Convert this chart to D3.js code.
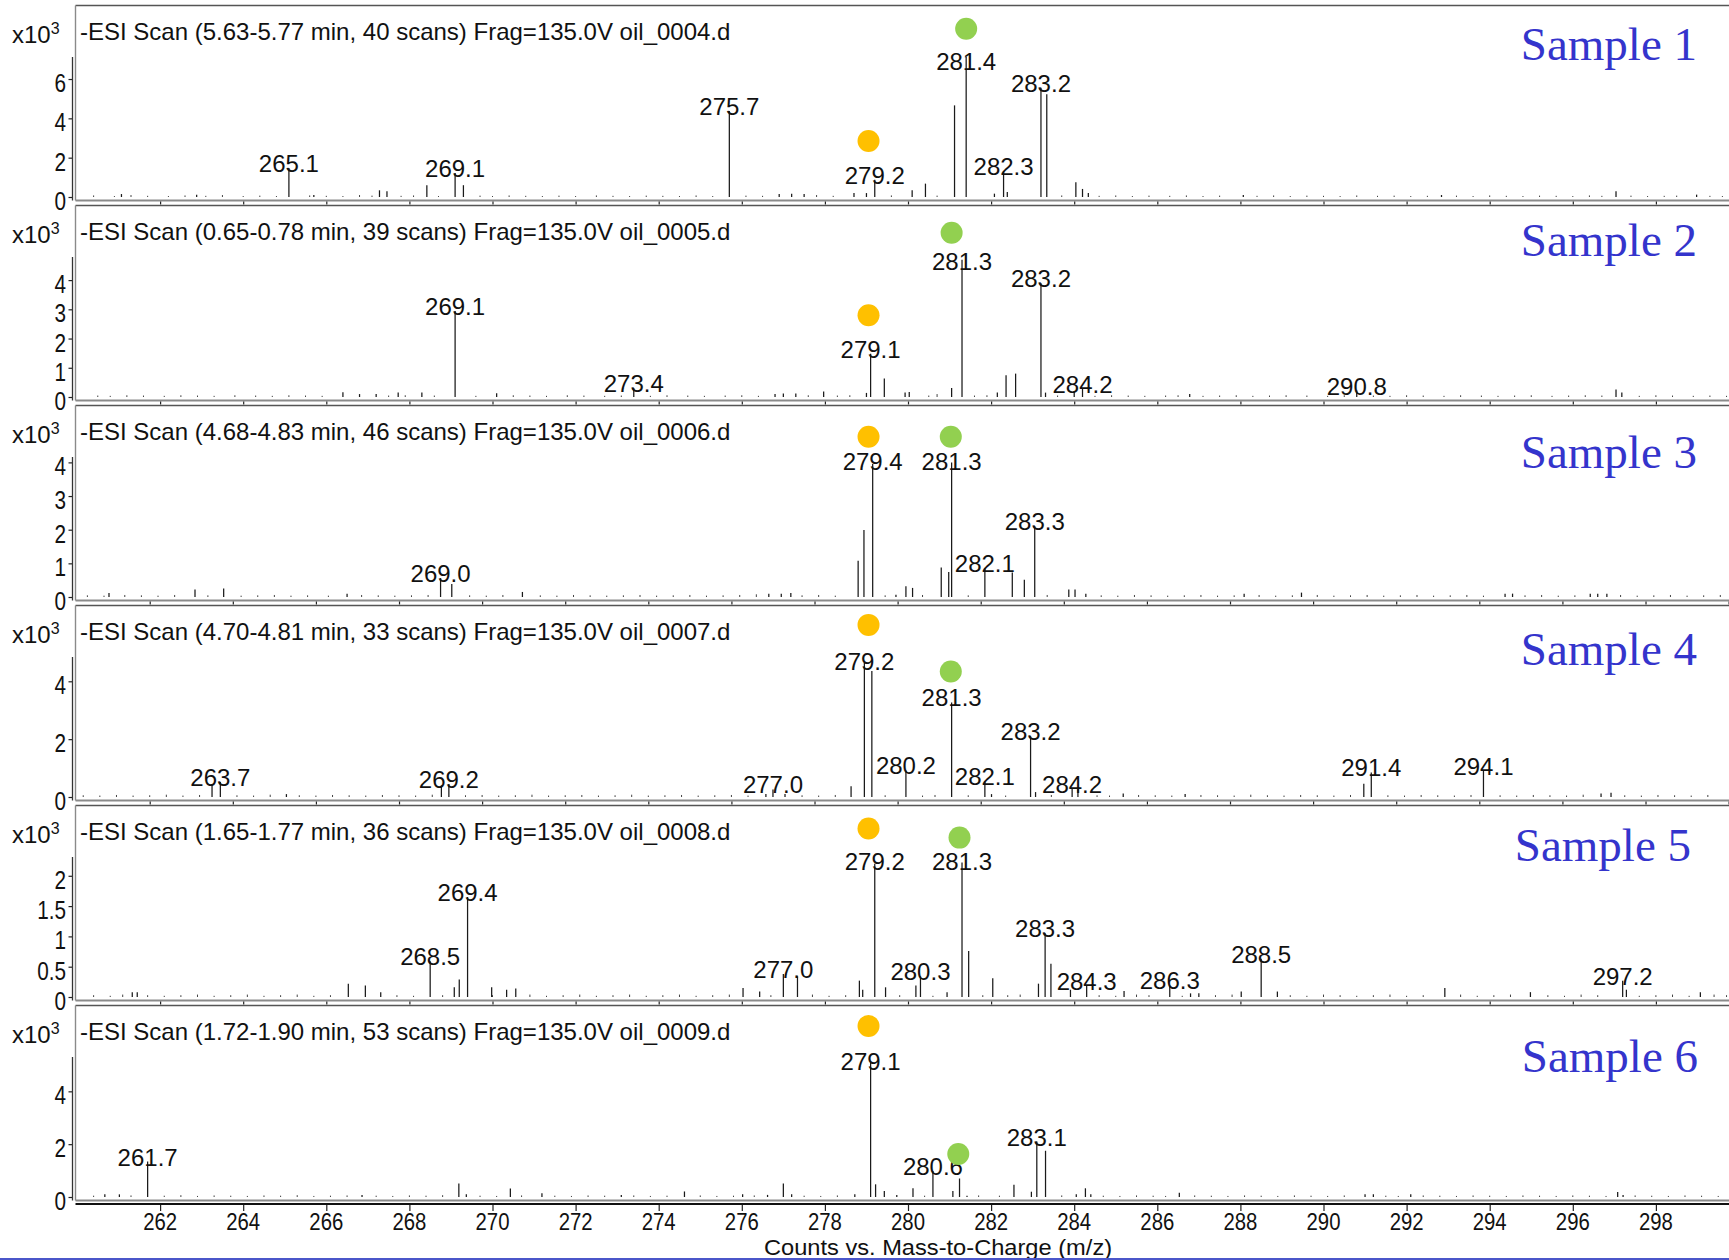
<!DOCTYPE html>
<html>
<head>
<meta charset="utf-8">
<script src="https://cdn.jsdelivr.net/npm/d3@7"></script>
<style>
  html, body { margin: 0; padding: 0; background: #ffffff; }
  svg { display: block; }
</style>
</head>
<body>
<svg id="chart" width="1729" height="1260"></svg>
<script>
// ---------- Sample panels (top to bottom) ----------
const sampleNames = ["Sample 1", "Sample 2", "Sample 3", "Sample 4", "Sample 5", "Sample 6"];
const scanTitles = [
  "-ESI Scan (5.63-5.77 min, 40 scans) Frag=135.0V oil_0004.d",
  "-ESI Scan (0.65-0.78 min, 39 scans) Frag=135.0V oil_0005.d",
  "-ESI Scan (4.68-4.83 min, 46 scans) Frag=135.0V oil_0006.d",
  "-ESI Scan (4.70-4.81 min, 33 scans) Frag=135.0V oil_0007.d",
  "-ESI Scan (1.65-1.77 min, 36 scans) Frag=135.0V oil_0008.d",
  "-ESI Scan (1.72-1.90 min, 53 scans) Frag=135.0V oil_0009.d"
];

// m/z where each panel's x axis starts (window is 40 m/z wide)
const mzStart = [260, 260, 260.25, 260.25, 260, 260];
// intensity axis top (x10^3 counts) and tick values per panel
const yMax = [7.12, 4.79, 4.16, 4.84, 2.31, 5.3];
const yTicks = [[0, 2, 4, 6], [0, 1, 2, 3, 4], [0, 1, 2, 3, 4], [0, 2, 4], [0, 0.5, 1, 1.5, 2], [0, 2, 4]];
const xTickValues = [262, 264, 266, 268, 270, 272, 274, 276, 278, 280, 282, 284, 286, 288, 290, 292, 294, 296, 298, 300];
const xTickLabels = [262, 264, 266, 268, 270, 272, 274, 276, 278, 280, 282, 284, 286, 288, 290, 292, 294, 296, 298];

// ---------- Centroid peaks: [m/z, counts x10^3, labelled] ----------
const s1Peaks = [
  [261.07, 0.15], [262.88, 0.12], [265.1, 1.48, 1], [265.7, 0.1], [267.28, 0.34], [267.46, 0.29],
  [268.42, 0.6], [269.1, 1.22, 1], [269.3, 0.6], [275.7, 4.37, 1], [276.9, 0.15], [277.2, 0.16],
  [277.5, 0.15], [278.7, 0.2], [279.0, 0.2], [279.2, 0.88, 1], [280.1, 0.34], [280.42, 0.68],
  [281.12, 4.66], [281.4, 7.12, 1], [282.08, 0.17], [282.3, 1.31, 1], [282.39, 0.26], [283.2, 5.56, 1],
  [283.34, 5.22], [284.04, 0.75], [284.2, 0.41], [284.34, 0.2], [288.07, 0.1], [292.84, 0.1],
  [297.04, 0.29], [298.98, 0.12]
];
const s2Peaks = [
  [266.4, 0.16], [266.8, 0.1], [267.2, 0.1], [267.73, 0.15], [268.3, 0.15], [269.1, 2.94, 1],
  [270.1, 0.13], [273.4, 0.3, 1], [276.8, 0.1], [277.0, 0.12], [277.3, 0.12], [277.97, 0.19],
  [279.0, 0.14], [279.1, 1.48, 1], [279.43, 0.63], [279.93, 0.15], [280.03, 0.17], [281.05, 0.31],
  [281.3, 4.7, 1], [282.15, 0.15], [282.36, 0.74], [282.59, 0.8], [283.2, 3.89, 1], [283.31, 0.15],
  [284.0, 0.2], [284.2, 0.28, 1], [286.78, 0.1], [290.8, 0.22, 1], [297.04, 0.26], [297.18, 0.15]
];
const s3Peaks = [
  [261.02, 0.12], [263.09, 0.22], [263.78, 0.25], [266.75, 0.1], [269.0, 0.56, 1], [269.27, 0.39],
  [270.97, 0.15], [276.9, 0.1], [277.2, 0.1], [277.43, 0.12], [279.05, 1.08], [279.19, 1.99],
  [279.4, 3.95, 1], [279.96, 0.07], [280.2, 0.32], [280.36, 0.27], [281.05, 0.88], [281.23, 0.74],
  [281.3, 4.0, 1], [282.1, 0.85, 1], [282.76, 0.73], [283.05, 0.51], [283.3, 2.1, 1], [284.12, 0.22],
  [284.27, 0.22], [284.53, 0.1], [288.34, 0.1], [289.72, 0.13], [294.62, 0.1], [294.8, 0.1],
  [296.67, 0.1], [296.85, 0.1], [297.07, 0.1]
];
const s4Peaks = [
  [263.5, 0.45], [263.7, 0.52, 1], [265.29, 0.1], [269.02, 0.4], [269.2, 0.45, 1], [276.83, 0.1],
  [277.0, 0.26, 1], [277.29, 0.1], [278.88, 0.37], [279.2, 4.65, 1], [279.38, 4.36], [280.2, 0.92, 1],
  [281.3, 3.27, 1], [282.1, 0.54, 1], [282.26, 0.1], [283.2, 2.1, 1], [283.32, 0.17], [284.2, 0.29, 1],
  [284.34, 0.27], [285.43, 0.12], [286.92, 0.1], [291.22, 0.46], [291.4, 0.85, 1], [294.1, 0.91, 1],
  [296.93, 0.12], [297.17, 0.15]
];
const s5Peaks = [
  [261.33, 0.08], [261.45, 0.08], [266.53, 0.22], [266.94, 0.19], [267.31, 0.08], [268.5, 0.59, 1],
  [269.08, 0.16], [269.2, 0.29], [269.4, 1.65, 1], [269.98, 0.16], [270.34, 0.12], [270.56, 0.14],
  [276.03, 0.15], [276.43, 0.09], [277.0, 0.38, 1], [277.34, 0.34], [278.83, 0.27], [278.91, 0.12],
  [279.2, 2.2, 1], [279.46, 0.16], [280.19, 0.19], [280.3, 0.34, 1], [280.94, 0.08], [281.3, 2.22, 1],
  [281.46, 0.76], [282.04, 0.31], [283.14, 0.22], [283.3, 1.05, 1], [283.44, 0.55], [283.91, 0.12],
  [284.3, 0.18, 1], [285.2, 0.1], [286.3, 0.19, 1], [286.8, 0.06], [287.0, 0.06], [288.02, 0.09],
  [288.5, 0.63, 1], [288.89, 0.09], [292.92, 0.15], [294.98, 0.08], [297.2, 0.27, 1], [297.29, 0.12],
  [299.07, 0.08]
];
const s6Peaks = [
  [260.67, 0.1], [261.02, 0.1], [261.7, 1.34, 1], [266.86, 0.08], [269.19, 0.51], [269.37, 0.1],
  [270.43, 0.32], [271.19, 0.14], [273.1, 0.08], [274.62, 0.21], [276.02, 0.1], [276.62, 0.08],
  [277.0, 0.51], [277.2, 0.1], [278.72, 0.1], [279.1, 5.1, 1], [279.22, 0.48], [279.43, 0.23],
  [279.73, 0.08], [280.12, 0.33], [280.6, 0.98, 1], [281.08, 0.23], [281.24, 0.7], [281.42, 0.05],
  [282.55, 0.46], [282.97, 0.2], [283.1, 2.1, 1], [283.31, 1.75], [284.05, 0.1], [284.27, 0.33],
  [284.4, 0.1], [286.53, 0.16], [291.0, 0.1], [291.2, 0.1], [292.1, 0.1], [297.08, 0.19], [297.21, 0.08]
];

// ---------- Low-level baseline ions: [m/z, counts x10^3] ----------
const s1Noise = [
  [260.4,.08],[260.9,.05],[261.3,.1],[261.7,.06],[262.2,.05],[262.6,.08],[263.1,.06],[263.5,.1],[264.0,.05],[264.4,.07],
  [264.8,.05],[265.6,.08],[266.0,.06],[266.4,.05],[266.8,.1],[267.1,.07],[267.8,.06],[268.1,.08],[268.7,.05],[269.7,.07],
  [270.0,.05],[270.4,.08],[270.8,.06],[271.2,.05],[271.6,.07],[272.0,.05],[272.5,.08],[272.9,.06],[273.3,.05],[273.7,.07],
  [274.1,.06],[274.5,.05],[274.9,.08],[275.3,.05],[276.1,.07],[276.5,.06],[277.8,.1],[278.2,.06],[279.6,.08],[280.7,.07],
  [283.7,.08],[284.6,.06],[285.0,.08],[285.4,.05],[285.8,.07],[286.3,.06],[286.7,.08],[287.1,.05],[287.5,.07],[288.4,.06],
  [288.8,.08],[289.2,.05],[289.6,.07],[290.0,.06],[290.4,.05],[290.8,.08],[291.3,.06],[291.7,.07],[292.1,.05],[292.5,.06],
  [293.2,.07],[293.6,.05],[294.0,.08],[294.4,.06],[294.8,.05],[295.2,.07],[295.6,.06],[296.0,.05],[296.4,.08],[296.7,.06],
  [297.4,.07],[297.8,.05],[298.2,.06],[298.5,.07],[299.3,.06],[299.6,.05]
];
const s2Noise = [
  [260.5,.05],[260.8,.04],[261.2,.06],[261.6,.05],[262.1,.04],[262.5,.06],[262.9,.05],[263.3,.04],[263.8,.06],[264.3,.05],
  [264.7,.04],[265.1,.06],[265.5,.05],[265.9,.04],[267.5,.05],[267.9,.06],[268.6,.05],[269.6,.04],[270.5,.06],[270.9,.05],
  [271.3,.04],[271.8,.06],[272.2,.05],[272.7,.04],[273.1,.05],[273.8,.04],[274.2,.06],[274.7,.05],[275.1,.04],[275.6,.05],
  [276.0,.06],[276.4,.04],[277.6,.06],[278.3,.05],[278.6,.06],[280.5,.05],[280.7,.1],[281.6,.05],[281.9,.06],[283.6,.05],
  [284.5,.04],[284.9,.06],[285.3,.05],[285.7,.04],[286.2,.05],[286.5,.06],[287.1,.04],[287.5,.05],[287.9,.06],[288.3,.04],
  [288.7,.05],[289.1,.06],[289.6,.05],[290.1,.04],[290.5,.06],[291.2,.05],[291.6,.04],[292.0,.06],[292.4,.05],[292.9,.04],
  [293.3,.06],[293.8,.05],[294.2,.04],[294.6,.05],[295.0,.06],[295.5,.04],[295.9,.05],[296.3,.06],[296.7,.05],[297.6,.04],
  [298.0,.06],[298.4,.05],[298.9,.04],[299.3,.05],[299.7,.04]
];
const s3Noise = [
  [260.5,.05],[260.9,.04],[261.4,.06],[261.8,.05],[262.2,.04],[262.6,.06],[263.4,.05],[264.2,.04],[264.6,.05],[265.0,.06],
  [265.4,.04],[265.8,.05],[266.3,.04],[267.1,.06],[267.5,.05],[267.9,.04],[268.3,.05],[268.7,.06],[269.7,.05],[270.1,.04],
  [270.5,.06],[271.4,.05],[271.8,.04],[272.2,.06],[272.6,.05],[273.0,.04],[273.4,.05],[273.8,.06],[274.2,.04],[274.6,.05],
  [275.0,.06],[275.4,.04],[275.8,.05],[276.2,.06],[276.6,.08],[277.7,.05],[278.1,.06],[278.5,.04],[279.7,.05],[280.6,.06],
  [281.7,.05],[283.6,.06],[284.9,.05],[285.3,.04],[285.7,.06],[286.1,.05],[286.5,.04],[286.9,.05],[287.3,.06],[287.7,.04],
  [288.1,.05],[288.7,.06],[289.1,.04],[289.5,.05],[290.1,.06],[290.5,.04],[290.9,.05],[291.3,.06],[291.7,.04],[292.1,.05],
  [292.5,.06],[292.9,.04],[293.3,.05],[293.7,.06],[294.1,.04],[295.1,.05],[295.5,.06],[295.9,.04],[296.3,.05],[297.4,.06],
  [297.8,.04],[298.2,.05],[298.6,.06],[299.0,.04],[299.4,.05],[299.8,.06]
];
const s4Noise = [
  [260.4,.06],[260.8,.05],[261.2,.07],[261.6,.05],[262.0,.06],[262.4,.08],[262.8,.05],[263.2,.07],[264.1,.06],[264.5,.05],
  [264.9,.08],[265.6,.06],[266.0,.05],[266.4,.07],[266.8,.06],[267.2,.05],[267.6,.07],[268.0,.06],[268.4,.05],[268.8,.08],
  [269.6,.06],[270.0,.07],[270.4,.05],[270.8,.06],[271.2,.08],[271.6,.05],[272.0,.06],[272.4,.07],[272.8,.05],[273.2,.06],
  [273.6,.08],[274.0,.05],[274.4,.06],[274.8,.07],[275.2,.05],[275.6,.06],[276.0,.07],[276.4,.05],[277.7,.06],[278.1,.05],
  [278.5,.07],[279.7,.06],[280.6,.05],[280.9,.07],[281.7,.06],[282.6,.05],[283.7,.07],[284.8,.06],[285.1,.05],[285.8,.07],
  [286.2,.06],[286.6,.05],[287.3,.07],[287.7,.06],[288.1,.05],[288.5,.08],[288.9,.06],[289.3,.05],[289.7,.07],[290.1,.06],
  [290.5,.05],[290.9,.07],[291.8,.06],[292.2,.05],[292.6,.07],[293.0,.06],[293.4,.05],[293.8,.07],[294.5,.06],[294.9,.05],
  [295.3,.07],[295.7,.06],[296.1,.05],[296.5,.08],[297.5,.06],[297.9,.05],[298.3,.07],[298.7,.06],[299.1,.05],[299.5,.07]
];
const s5Noise = [
  [260.4,.03],[260.8,.02],[261.1,.04],[261.7,.03],[262.1,.02],[262.5,.03],[262.9,.04],[263.3,.02],[263.7,.03],[264.1,.04],
  [264.5,.02],[264.9,.03],[265.3,.04],[265.7,.02],[266.1,.03],[267.7,.03],[268.1,.02],[268.8,.03],[270.0,.03],[270.9,.04],
  [271.3,.02],[271.7,.03],[272.1,.04],[272.5,.02],[272.9,.03],[273.3,.04],[273.7,.02],[274.1,.03],[274.5,.04],[274.9,.02],
  [275.3,.03],[275.7,.04],[276.7,.03],[277.7,.04],[278.1,.02],[278.5,.03],[279.8,.03],[280.6,.02],[281.8,.03],[282.4,.03],
  [282.7,.04],[284.6,.03],[285.0,.02],[285.5,.04],[285.8,.03],[286.6,.02],[287.4,.03],[287.8,.04],[289.2,.03],[289.6,.02],
  [290.0,.04],[290.4,.03],[290.8,.02],[291.2,.03],[291.6,.04],[292.0,.02],[292.4,.03],[293.3,.04],[293.7,.02],[294.1,.03],
  [294.5,.04],[295.4,.03],[295.8,.02],[296.2,.04],[296.6,.03],[297.6,.02],[298.0,.03],[298.4,.04],[298.8,.02],[299.4,.04],
  [299.7,.03]
];
const s6Noise = [
  [260.4,.05],[261.3,.06],[262.1,.05],[262.5,.07],[262.9,.04],[263.3,.06],[263.7,.05],[264.1,.04],[264.5,.06],[264.9,.05],
  [265.3,.07],[265.7,.04],[266.1,.05],[266.5,.06],[267.2,.05],[267.6,.04],[268.0,.06],[268.4,.05],[268.8,.07],[269.7,.05],
  [270.1,.04],[270.7,.06],[271.5,.05],[271.9,.04],[272.3,.06],[272.7,.05],[273.4,.06],[273.8,.04],[274.2,.05],[275.0,.06],
  [275.4,.04],[275.8,.05],[276.3,.06],[277.5,.05],[277.9,.04],[278.3,.06],[280.4,.05],[281.7,.06],[282.2,.05],[283.7,.06],
  [284.7,.05],[285.1,.04],[285.5,.06],[285.9,.05],[286.2,.04],[286.9,.06],[287.3,.05],[287.7,.04],[288.1,.06],[288.5,.05],
  [288.9,.04],[289.3,.06],[289.7,.05],[290.1,.04],[290.5,.06],[291.5,.05],[291.8,.04],[292.4,.06],[292.8,.05],[293.2,.04],
  [293.6,.06],[294.0,.05],[294.4,.04],[294.8,.06],[295.2,.05],[295.6,.04],[296.0,.06],[296.4,.05],[296.8,.04],[297.5,.06],
  [297.9,.05],[298.3,.04],[298.7,.06],[299.1,.05],[299.5,.04]
];

// ---------- Highlight dots: [m/z, height x10^3] in each panel's own units ----------
const orangeDots = [[279.05, 2.85], [279.05, 2.8], [279.3, 4.76], [279.3, 5.95], [279.05, 2.78], [279.05, 6.47]];
const greenDots  = [[281.4, 8.56], [281.05, 5.62], [281.28, 4.76], [281.28, 4.34], [281.24, 2.63], [281.21, 1.63]];

const samplePeaks = [s1Peaks, s2Peaks, s3Peaks, s4Peaks, s5Peaks, s6Peaks];
const sampleNoise = [s1Noise, s2Noise, s3Noise, s4Noise, s5Noise, s6Noise];

// ---------- Layout ----------
const svg = d3.select("#chart");
const SANS = "'Liberation Sans', Arial, Helvetica, sans-serif";
const SERIF = "'Liberation Serif', 'Times New Roman', serif";
const pitch = 200;          // vertical distance between stacked panels
const frameLeft = 75.5;
const plotLeft = 77;
const pxPerMz = 41.55;
const plotRight = plotLeft + 40 * pxPerMz;
const plotH = 140;
const NARROW = 0.83;        // horizontal squeeze for axis numerals
const sampleBaselines = [60, 256, 468, 665, 861, 1072];
const sampleRight = [1697, 1697, 1697, 1697, 1691, 1698];

samplePeaks.forEach((peaks, i) => {
  const frameTop = 5.5 + i * pitch;
  const frameBottom = 200.5 + i * pitch;
  const base = 197 + i * pitch;
  const x = d3.scaleLinear().domain([mzStart[i], mzStart[i] + 40]).range([plotLeft, plotRight]);
  const y = d3.scaleLinear().domain([0, yMax[i]]).range([base, base - plotH]);
  const g = svg.append("g").attr("class", "panel");

  // frame
  g.append("line").attr("x1", frameLeft).attr("x2", 1729).attr("y1", frameTop).attr("y2", frameTop)
    .attr("stroke", "#555").attr("stroke-width", 1.4);
  g.append("line").attr("x1", frameLeft).attr("x2", 1729).attr("y1", frameBottom).attr("y2", frameBottom)
    .attr("stroke", "#8a8a8a").attr("stroke-width", 2);
  g.append("line").attr("x1", frameLeft).attr("x2", frameLeft).attr("y1", frameTop).attr("y2", frameBottom)
    .attr("stroke", "#8a8a8a").attr("stroke-width", 1.4);

  // x axis ticks along the bottom of each panel
  const last = i === samplePeaks.length - 1;
  const xAxisY = last ? frameBottom + 3.5 : frameBottom + 1;
  const xAxis = d3.axisBottom(x)
    .tickValues(xTickValues.filter(v => x(v) >= frameLeft && x(v) <= 1729))
    .tickSize(last ? 7 : 3)
    .tickFormat("");
  const xg = g.append("g").attr("transform", `translate(0,${xAxisY})`).call(xAxis);
  xg.select(".domain").remove();
  xg.selectAll(".tick line").attr("stroke", "#222").attr("stroke-width", 1.2);
  if (last) {
    g.append("line").attr("x1", frameLeft).attr("x2", 1729).attr("y1", xAxisY).attr("y2", xAxisY)
      .attr("stroke", "#111").attr("stroke-width", 2);
  }

  // y axis
  const yAxis = d3.axisLeft(y).tickValues(yTicks[i]).tickSize(4)
    .tickFormat(v => (Number.isInteger(v) ? d3.format("d")(v) : d3.format(".1f")(v)));
  const yg = g.append("g").attr("transform", "translate(72.5,0)").call(yAxis);
  yg.select(".domain").remove();
  yg.selectAll(".tick line").attr("stroke", "#222").attr("stroke-width", 1.2);
  yg.selectAll(".tick text")
    .attr("x", -6.5 / NARROW).attr("dy", "0.5em")
    .attr("transform", `scale(${NARROW},1)`)
    .attr("font-family", SANS).attr("font-size", 25).attr("fill", "#111");
  g.append("line").attr("x1", 72.5).attr("x2", 72.5).attr("y1", base - plotH).attr("y2", frameBottom)
    .attr("stroke", "#333").attr("stroke-width", 1.3);

  // multiplier and scan header
  const mult = g.append("text").attr("x", 12).attr("y", frameTop + 37)
    .attr("font-family", SANS).attr("font-size", 24).attr("fill", "#111");
  mult.append("tspan").text("x10");
  mult.append("tspan").attr("dy", -9).attr("font-size", 16).text("3");

  g.append("text").attr("x", 80).attr("y", frameTop + 34.5)
    .attr("font-family", SANS).attr("font-size", 24).attr("fill", "#111")
    .text(scanTitles[i]);

  // baseline ions
  g.append("g").selectAll("line").data(sampleNoise[i]).join("line")
    .attr("x1", d => x(d[0])).attr("x2", d => x(d[0]))
    .attr("y1", base).attr("y2", d => y(d[1]))
    .attr("stroke", "#444").attr("stroke-width", 1);

  // peaks
  g.append("g").selectAll("line").data(peaks).join("line")
    .attr("x1", d => x(d[0])).attr("x2", d => x(d[0]))
    .attr("y1", base).attr("y2", d => y(d[1]))
    .attr("stroke", "#1a1a1a").attr("stroke-width", 1.25);

  // peak m/z labels
  g.append("g").selectAll("text").data(peaks.filter(d => d[2])).join("text")
    .attr("x", d => x(d[0]))
    .attr("y", d => Math.max(y(d[1]) + 4, base - plotH + 12.5))
    .attr("text-anchor", "middle")
    .attr("font-family", SANS).attr("font-size", 24).attr("fill", "#111")
    .text(d => d3.format(".1f")(d[0]));

  // highlight dots
  g.append("circle").attr("cx", x(orangeDots[i][0])).attr("cy", y(orangeDots[i][1])).attr("r", 11)
    .attr("fill", "#FFC000");
  g.append("circle").attr("cx", x(greenDots[i][0])).attr("cy", y(greenDots[i][1])).attr("r", 11)
    .attr("fill", "#92D050");

  // sample name
  g.append("text").attr("x", sampleRight[i]).attr("y", sampleBaselines[i])
    .attr("text-anchor", "end")
    .attr("font-family", SERIF).attr("font-size", 47).attr("fill", "#3434CC")
    .text(sampleNames[i]);

  // bottom tick labels and axis title on the last panel
  if (last) {
    g.append("g").selectAll("text").data(xTickLabels).join("text")
      .attr("transform", d => `translate(${x(d)},1229.5) scale(${NARROW},1)`)
      .attr("text-anchor", "middle")
      .attr("font-family", SANS).attr("font-size", 24.5).attr("fill", "#111")
      .text(d => d);
    g.append("text")
      .attr("transform", "translate(938,1254.5) scale(1.1,1)")
      .attr("text-anchor", "middle")
      .attr("font-family", SANS).attr("font-size", 21.5).attr("fill", "#111")
      .text("Counts vs. Mass-to-Charge (m/z)");
  }
});

// slide border along the bottom edge
svg.append("line").attr("x1", 0).attr("x2", 1729).attr("y1", 1259).attr("y2", 1259)
  .attr("stroke", "#4b56c9").attr("stroke-width", 2);
</script>
</body>
</html>
